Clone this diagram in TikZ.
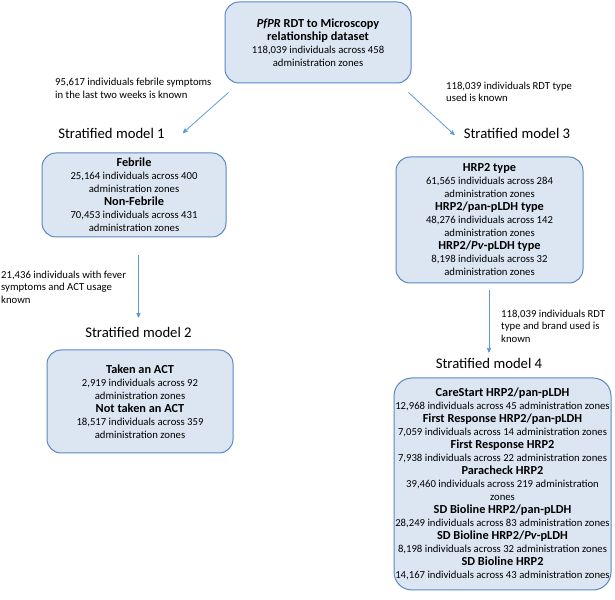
\documentclass[tikz,border=0pt]{standalone}
\usepackage{fontspec}
\setmainfont{Carlito}
\usepackage{tikz}
\usetikzlibrary{arrows,calc}
\definecolor{BoxFill}{HTML}{DCE6F2}
\definecolor{BoxLine}{HTML}{5A87C2}
\definecolor{ArrowLine}{HTML}{5B9BD5}
\newcommand{\boxhead}[1]{{\fontsize{12.3bp}{13bp}\selectfont\bfseries #1}}

\begin{document}
\begin{tikzpicture}[>=latex', line join=bevel,
  model/.style={draw=BoxLine, fill=BoxFill, line width=1bp,
    rounded corners=14bp, align=center, inner sep=0pt,
    font=\fontsize{10.7bp}{13bp}\selectfont},
  heading/.style={inner sep=0pt, font=\fontsize{14.7bp}{17bp}\selectfont},
  note/.style={align=left, anchor=west, inner sep=0pt,
    font=\fontsize{10.7bp}{12.5bp}\selectfont},
  link/.style={-stealth', draw=ArrowLine, line width=0.8bp}]
%%
\useasboundingbox (0bp,0bp) rectangle (615bp,600bp);

\node (box_dataset) at (318bp,557.5bp)
  [model, minimum width=186bp, minimum height=81bp]
  {\boxhead{\textit{PfPR} RDT to Microscopy}\\
   \boxhead{relationship dataset}\\
   118,039 individuals across 458\\ administration zones};

\node (ttl_model-1) at (111.5bp,467bp) [heading] {Stratified model 1};
\node (ttl_model-3) at (517bp,467bp) [heading] {Stratified model 3};
\node (ttl_model-2) at (138.5bp,268bp) [heading] {Stratified model 2};
\node (ttl_model-4) at (489bp,237bp) [heading] {Stratified model 4};

\node (box_febrile) at (134bp,405bp)
  [model, minimum width=184bp, minimum height=84bp]
  {\boxhead{Febrile}\\
   25,164 individuals across 400\\ administration zones\\
   \boxhead{Non-Febrile}\\
   70,453 individuals across 431\\ administration zones};

\node (box_act) at (140bp,198.5bp)
  [model, minimum width=186bp, minimum height=103bp]
  {\boxhead{Taken an ACT}\\
   2,919 individuals across 92\\ administration zones\\
   \boxhead{Not taken an ACT}\\
   18,517 individuals across 359\\ administration zones};

\node (box_rdt-type) at (489.5bp,380bp)
  [model, minimum width=187bp, minimum height=126bp]
  {\boxhead{HRP2 type}\\
   61,565 individuals across 284\\ administration zones\\
   \boxhead{HRP2/pan-pLDH type}\\
   48,276 individuals across 142\\ administration zones\\
   \boxhead{HRP2/\textit{Pv}-pLDH type}\\
   8,198 individuals across 32\\ administration zones};

\node (box_rdt-brand) at (502.5bp,116bp)
  [model, minimum width=217bp, minimum height=212bp, rounded corners=18bp]
  {\boxhead{CareStart HRP2/pan-pLDH}\\
   12,968 individuals across 45 administration zones\\
   \boxhead{First Response HRP2/pan-pLDH}\\
   7,059 individuals across 14 administration zones\\
   \boxhead{First Response HRP2}\\
   7,938 individuals across 22 administration zones\\
   \boxhead{Paracheck HRP2}\\
   39,460 individuals across 219 administration\\ zones\\
   \boxhead{SD Bioline HRP2/pan-pLDH}\\
   28,249 individuals across 83 administration zones\\
   \boxhead{SD Bioline HRP2/\textit{Pv}-pLDH}\\
   8,198 individuals across 32 administration zones\\
   \boxhead{SD Bioline HRP2}\\
   14,167 individuals across 43 administration zones};

\node (lbl_febrile) at (55bp,511.5bp) [note]
  {95,617 individuals febrile symptoms\\ in the last two weeks is known};
\node (lbl_rdt-type) at (446bp,508bp) [note]
  {118,039 individuals RDT type\\ used is known};
\node (lbl_act) at (1bp,313bp) [note]
  {21,436 individuals with fever\\ symptoms and ACT usage\\ known};
\node (lbl_rdt-brand) at (501bp,274bp) [note]
  {118,039 individuals RDT\\ type and brand used is\\ known};

\draw [link]
  ($(box_dataset.south west)+(4bp,-9bp)$) -- ($(ttl_model-1.east)+(18bp,0bp)$);

\draw [link]
  ($(box_dataset.south east)+(-3bp,-9bp)$) -- ($(ttl_model-3.west)+(-9bp,-2bp)$);

\draw [link, shorten <=18bp, shorten >=9bp]
  (box_febrile.south -| ttl_model-2.north) -- (ttl_model-2.north);

\draw [link, shorten <=7bp, shorten >=5bp]
  (box_rdt-type.south -| ttl_model-4.north) -- (ttl_model-4.north);
\end{tikzpicture}
\end{document}
